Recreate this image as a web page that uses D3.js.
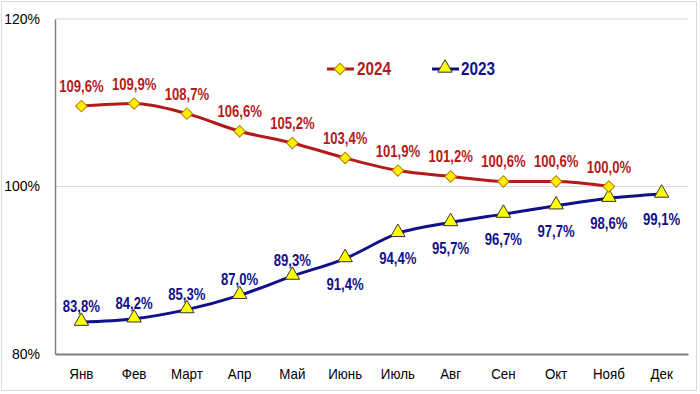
<!DOCTYPE html>
<html><head><meta charset="utf-8">
<script src="https://cdn.jsdelivr.net/npm/d3@7"></script>
<style>body{margin:0;background:#fff}svg{display:block;font-family:"Liberation Sans",Arial,sans-serif}</style>
</head><body><svg id="c" width="700" height="394"></svg>
<script>
const months = ["Янв","Фев","Март","Апр","Май","Июнь","Июль","Авг","Сен","Окт","Нояб","Дек"];
const values2024 = [109.6,109.9,108.7,106.6,105.2,103.4,101.9,101.2,100.6,100.6,100.0];
const values2023 = [83.8,84.2,85.3,87.0,89.3,91.4,94.4,95.7,96.7,97.7,98.6,99.1];
const labelBelow2023 = [false,false,false,false,false,true,true,true,true,true,true,true];
const yTicks = [80,100,120];

const svg = d3.select("#c");
const x = d3.scaleBand().domain(months).range([55,688]);
const y = d3.scaleLinear().domain([80,120]).range([354,19]);
const cx = m => x(m) + x.bandwidth()/2;
const fmt = v => v.toFixed(1).replace(".", ",") + "%";

svg.append("rect").attr("x",1.5).attr("y",1.5).attr("width",695).attr("height",389)
  .attr("fill","none").attr("stroke","#d9d9d9");

svg.append("g").selectAll("line").data(yTicks.filter(t=>t>80)).join("line")
  .attr("x1",55).attr("x2",688).attr("y1",d=>y(d)).attr("y2",d=>y(d))
  .attr("stroke","#d9d9d9").attr("stroke-width",1);

const ya = svg.append("g").attr("transform","translate(55,0)")
  .call(d3.axisLeft(y).tickValues(yTicks).tickSize(0).tickPadding(15).tickFormat(d=>d+"%"));
ya.select(".domain").attr("stroke","#7f7f7f").attr("stroke-width",1.5);
ya.selectAll("text").attr("font-size",14).attr("fill","#000").attr("font-family","Liberation Sans, Arial");

const xa = svg.append("g").attr("transform","translate(0,354)")
  .call(d3.axisBottom(x).tickSize(0).tickPadding(15));
xa.select(".domain").attr("stroke","#7f7f7f").attr("stroke-width",2);
xa.selectAll("text").attr("font-size",14.5).attr("fill","#000").attr("font-family","Liberation Sans, Arial")
  .attr("transform","scale(0.92,1)");

const red = "#b51a1a", blue = "#10108a";
const line = d3.line().curve(d3.curveMonotoneX);

const d24 = values2024.map((v,i)=>[cx(months[i]), y(v)]);
const d23 = values2023.map((v,i)=>[cx(months[i]), y(v)]);

svg.append("path").attr("d",line(d23)).attr("fill","none").attr("stroke",blue).attr("stroke-width",3);
svg.append("path").attr("d",line(d24)).attr("fill","none").attr("stroke",red).attr("stroke-width",3);

const diamond = d3.symbol().type(d3.symbolSquare).size(66)();
const tri = d3.symbol().type(d3.symbolTriangle).size(90)();

svg.append("g").selectAll("path").data(d23).join("path")
  .attr("d",tri).attr("transform",d=>`translate(${d[0]},${d[1]-1})`)
  .attr("fill","#ffff00").attr("stroke","#333").attr("stroke-width",1);
svg.append("g").selectAll("path").data(d24).join("path")
  .attr("d",diamond).attr("transform",d=>`translate(${d[0]},${d[1]}) rotate(45)`)
  .attr("fill","#ffee00").attr("stroke","#b08000").attr("stroke-width",1);

const sx = 0.82;
svg.append("g").selectAll("text").data(values2024).join("text")
  .attr("transform",(d,i)=>`translate(${cx(months[i])},${y(d)-14}) scale(${sx},1)`)
  .attr("text-anchor","middle").attr("font-size",16).attr("font-weight","bold")
  .attr("fill",red).text(fmt);
svg.append("g").selectAll("text").data(values2023).join("text")
  .attr("transform",(d,i)=>`translate(${cx(months[i])},${labelBelow2023[i] ? y(d)+31 : y(d)-10}) scale(${sx},1)`)
  .attr("text-anchor","middle").attr("font-size",16).attr("font-weight","bold")
  .attr("fill",blue).text(fmt);

const lg = svg.append("g");
lg.append("line").attr("x1",327).attr("x2",354).attr("y1",69).attr("y2",69).attr("stroke",red).attr("stroke-width",3);
lg.append("path").attr("d",diamond).attr("transform","translate(340,69) rotate(45)").attr("fill","#ffee00").attr("stroke","#b08000");
lg.append("text").attr("transform","translate(357,75) scale(0.85,1)").attr("font-size",18).attr("font-weight","bold").attr("fill",red).text("2024");
lg.append("line").attr("x1",432).attr("x2",459).attr("y1",69).attr("y2",69).attr("stroke",blue).attr("stroke-width",3);
lg.append("path").attr("d",tri).attr("transform","translate(445,68)").attr("fill","#ffff00").attr("stroke","#333");
lg.append("text").attr("transform","translate(461,75) scale(0.85,1)").attr("font-size",18).attr("font-weight","bold").attr("fill",blue).text("2023");
</script></body></html>
